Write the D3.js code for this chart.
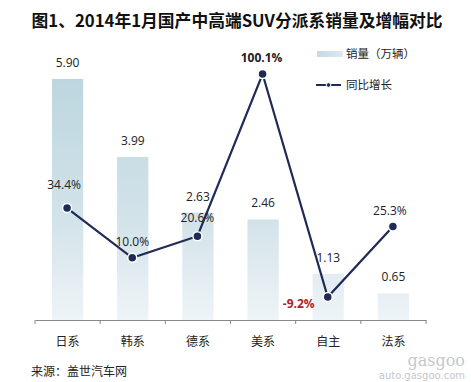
<!DOCTYPE html>
<html><head><meta charset="utf-8">
<script src="https://cdn.jsdelivr.net/npm/d3@7/dist/d3.min.js"></script>
<style>body{margin:0;background:#fff;}svg{display:block;font-family:"Microsoft YaHei","Noto Sans CJK SC",sans-serif;}</style>
</head><body><svg id="c" width="471" height="382"></svg>
<script>
const categories = ["日系","韩系","德系","美系","自主","法系"];
const sales = [5.90, 3.99, 2.63, 2.46, 1.13, 0.65];
const growth = [34.4, 10.0, 20.6, 100.1, -9.2, 25.3];
const salesLabels = ["5.90","3.99","2.63","2.46","1.13","0.65"];
const growthLabels = ["34.4%","10.0%","20.6%","100.1%","-9.2%","25.3%"];
const title = "图1、2014年1月国产中高端SUV分派系销量及增幅对比";
const source = "来源：盖世汽车网";
const legendNames = ["销量（万辆）","同比增长"];

const svg = d3.select("#c");
const x = d3.scaleBand().domain(categories).range([35, 426]).paddingInner(0.52).paddingOuter(0.26);
const xb = d3.scaleBand().domain(categories).range([35, 426]);
const yBar = d3.scaleLinear().domain([0, 7]).range([320, 34]);
const yLine = d3.scaleLinear().domain([-20, 110]).range([319, 53.8]);

const defs = svg.append("defs");
const g = defs.append("linearGradient").attr("id","bg").attr("x1",0).attr("y1",0).attr("x2",0).attr("y2",1).attr("gradientUnits","userSpaceOnUse")
  .attr("y1", yBar(6)).attr("y2", 320);
g.append("stop").attr("offset",0).attr("stop-color","#bcd6df");
g.append("stop").attr("offset",0.6).attr("stop-color","#d3e3ea");
g.append("stop").attr("offset",1).attr("stop-color","#eef4f7");
const lg = defs.append("linearGradient").attr("id","lg").attr("x1",0).attr("y1",0).attr("x2",1).attr("y2",0);
lg.append("stop").attr("offset",0).attr("stop-color","#c4d9e1");
lg.append("stop").attr("offset",1).attr("stop-color","#dde9ee");

// title
svg.append("text").attr("x",237).attr("y",27).attr("text-anchor","middle")
  .attr("font-family","SimHei,'Noto Sans CJK SC',sans-serif").attr("font-weight","bold").attr("font-size",16.5)
  .attr("fill","#111").attr("textLength",411).attr("lengthAdjust","spacingAndGlyphs").text(title);

// bars
svg.append("g").selectAll("rect").data(sales).join("rect")
  .attr("x",(d,i)=>x(categories[i])).attr("width",x.bandwidth())
  .attr("y",d=>yBar(d)).attr("height",d=>320-yBar(d)).attr("fill","url(#bg)");

// axis
const ax = svg.append("g").attr("transform","translate(0,320)")
  .call(d3.axisBottom(xb).tickSize(0).tickPadding(17));
ax.select(".domain").attr("stroke","#888");
ax.selectAll(".tick text").attr("font-size",12).attr("fill","#222")
  .attr("font-family","'Noto Sans CJK SC',sans-serif");
svg.append("g").selectAll("line").data(d3.range(categories.length+1)).join("line")
  .attr("x1",i=>i<categories.length? xb(categories[i]) : 426).attr("x2",i=>i<categories.length? xb(categories[i]) : 426)
  .attr("y1",320).attr("y2",324).attr("stroke","#888");

// bar labels
svg.append("g").selectAll("text").data(sales).join("text")
  .attr("x",(d,i)=>x(categories[i])+x.bandwidth()/2).attr("y",d=>yBar(d)-12)
  .attr("text-anchor","middle").attr("font-size",12).attr("fill","#222")
  .attr("font-family","'Open Sans','Noto Sans',sans-serif")
  .text((d,i)=>salesLabels[i]);

// line
const cx = i => xb(categories[i]) + xb.bandwidth()/2 - 0.5;
svg.append("path").datum(growth)
  .attr("d", d3.line().x((d,i)=>cx(i)).y(d=>yLine(d)))
  .attr("fill","none").attr("stroke","#1f2a55").attr("stroke-width",2.2);
svg.append("g").selectAll("circle").data(growth).join("circle")
  .attr("cx",(d,i)=>cx(i)).attr("cy",d=>yLine(d)).attr("r",4.5)
  .attr("fill","#1f2a55").attr("stroke","#fff").attr("stroke-width",1.5);

// growth labels
const gOff = [[-3,-23],[0,-16],[0,-18],[-1,-16],[-29,7],[-3,-16]];
svg.append("g").selectAll("text").data(growth).join("text")
  .attr("x",(d,i)=>cx(i)+gOff[i][0]).attr("y",(d,i)=>yLine(d)+gOff[i][1]+4)
  .attr("text-anchor","middle").attr("font-size",12)
  .attr("font-family","'Open Sans','Noto Sans',sans-serif")
  .attr("font-weight",(d,i)=>(i===3||i===4)?"bold":"normal")
  .attr("fill",(d,i)=>i===4?"#b0202a":"#222")
  .text((d,i)=>growthLabels[i]);

// legend
svg.append("rect").attr("x",317).attr("y",51).attr("width",26).attr("height",6).attr("fill","url(#lg)");
svg.append("text").attr("x",346).attr("y",58).attr("font-size",11.5).attr("fill","#222")
  .attr("font-family","'Noto Sans CJK SC',sans-serif").text(legendNames[0]);
svg.append("line").attr("x1",316).attr("x2",341).attr("y1",85).attr("y2",85).attr("stroke","#1f2a55").attr("stroke-width",2);
svg.append("circle").attr("cx",328.5).attr("cy",85).attr("r",2.3).attr("fill","#1f2a55").attr("stroke","#fff").attr("stroke-width",1);
svg.append("text").attr("x",346).attr("y",89).attr("font-size",11.5).attr("fill","#222")
  .attr("font-family","'Noto Sans CJK SC',sans-serif").text(legendNames[1]);

// source
svg.append("text").attr("x",31).attr("y",376).attr("font-size",12).attr("fill","#222")
  .attr("font-family","'Noto Sans CJK SC',sans-serif").text(source);

// watermark
svg.append("text").attr("x",465).attr("y",366).attr("text-anchor","end").attr("font-size",16)
  .attr("fill","#c4c8cc").attr("font-family","'DejaVu Serif',serif").text("gasgoo");
svg.append("text").attr("x",465).attr("y",379).attr("text-anchor","end").attr("font-size",10)
  .attr("fill","#c4c8cc").attr("font-family","'DejaVu Sans',sans-serif").text("auto.gasgoo.com");
</script></body></html>
